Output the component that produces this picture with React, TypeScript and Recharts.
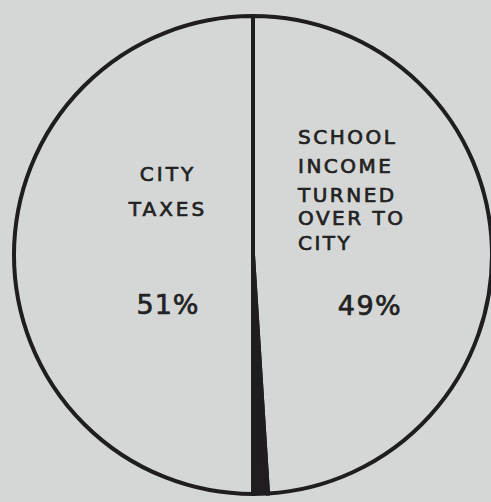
import { Cell, Pie, PieChart } from 'recharts'

// shares in percent, clockwise from the top
const sliceNames = ['School income turned over to city', 'City taxes (shaded)', 'City taxes']
const sliceValues = [49, 1, 50]
const sliceFills = ['#d5d7d6', '#1f1d1f', '#d5d7d6']

const leftLines = ['CITY', 'TAXES']
const rightLines = ['SCHOOL', 'INCOME', 'TURNED', 'OVER TO', 'CITY']
const leftPercent = '51%'
const rightPercent = '49%'

const data = sliceNames.map((name, i) => ({ name, value: sliceValues[i] }))

const textStyle = { fontFamily: 'DejaVu Sans', fill: '#222', stroke: '#222', strokeWidth: 0.7 }

function renderLabel(props: any) {
  const { cx, cy, index } = props
  if (index === 2) {
    const offsets = [-74, -39]
    return (
      <g>
        {leftLines.map((line, i) => (
          <text key={line} x={cx - 85} y={cy + offsets[i]} textAnchor="middle" fontSize={20} letterSpacing={3} {...textStyle}>
            {line}
          </text>
        ))}
        <text x={cx - 85} y={cy + 59} textAnchor="middle" fontSize={27} letterSpacing={1} {...textStyle}>
          {leftPercent}
        </text>
      </g>
    )
  }
  if (index === 0) {
    const offsets = [-111, -82, -53, -30, -5]
    return (
      <g>
        {rightLines.map((line, i) => (
          <text key={i} x={cx + 45} y={cy + offsets[i]} textAnchor="start" fontSize={20} letterSpacing={2.5} {...textStyle}>
            {line}
          </text>
        ))}
        <text x={cx + 117} y={cy + 60} textAnchor="middle" fontSize={27} letterSpacing={1.5} {...textStyle}>
          {rightPercent}
        </text>
      </g>
    )
  }
  return <g />
}

export default function App() {
  return (
    <div style={{ position: 'fixed', left: 0, top: 0, width: 491, height: 502, background: '#d5d7d6' }}>
      <PieChart width={491} height={502} margin={{ top: 0, right: 0, bottom: 0, left: 0 }}>
        <Pie
          data={data}
          dataKey="value"
          nameKey="name"
          cx={253}
          cy={255}
          outerRadius={239}
          startAngle={90}
          endAngle={-270}
          stroke="#1f1d1f"
          strokeWidth={4}
          label={renderLabel}
          labelLine={false}
          isAnimationActive={false}
        >
          {data.map((d, i) => (
            <Cell key={d.name} fill={sliceFills[i]} />
          ))}
        </Pie>
      </PieChart>
    </div>
  )
}
